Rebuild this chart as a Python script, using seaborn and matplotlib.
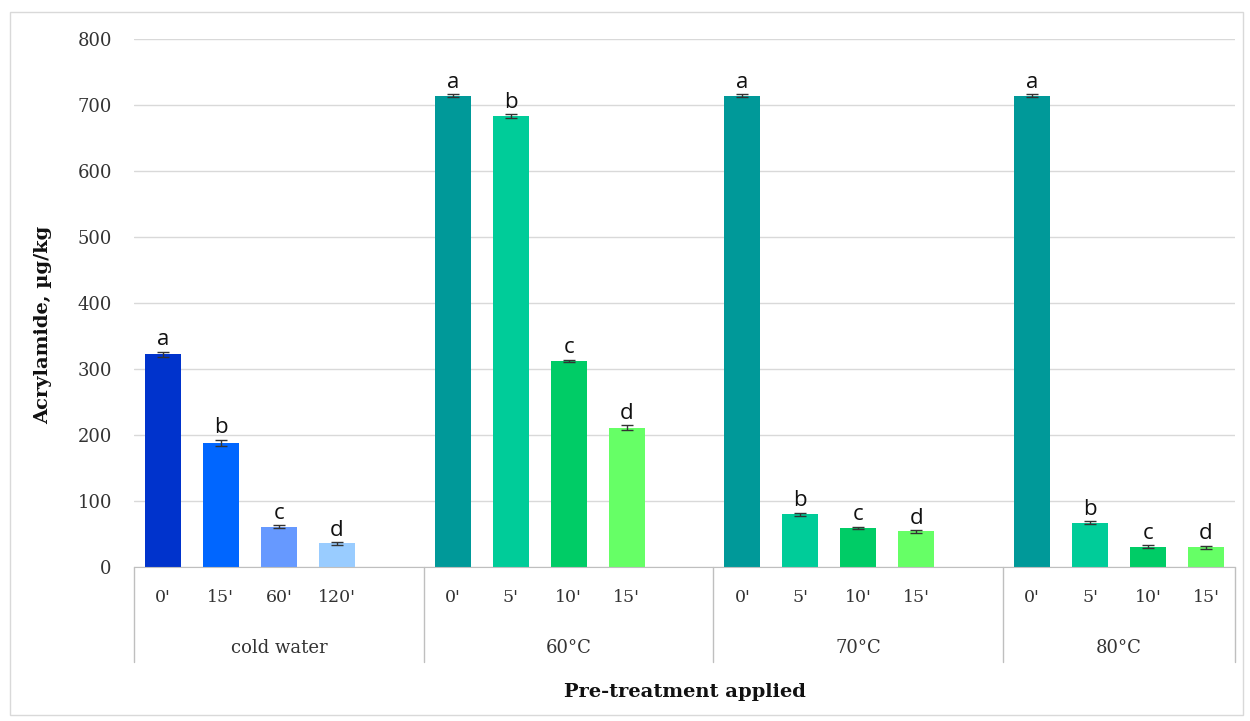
import numpy as np
import pandas as pd
import matplotlib.pyplot as plt
import matplotlib.transforms as mtransforms
from matplotlib.patches import Rectangle
import seaborn as sns

groups = ["cold water", "60°C", "70°C", "80°C"]
times = [["0'", "15'", "60'", "120'"],
         ["0'", "5'", "10'", "15'"],
         ["0'", "5'", "10'", "15'"],
         ["0'", "5'", "10'", "15'"]]
values = [[322, 188, 61, 36],
          [714, 683, 312, 211],
          [714, 80, 59, 54],
          [714, 67, 31, 30]]
errors = [[4, 5, 2, 2],
          [2, 3, 2, 4],
          [2, 2, 2, 2],
          [2, 2, 2, 2]]
letters = ["a", "b", "c", "d"]
colors = [["#0033CC", "#0066FF", "#6699FF", "#99CCFF"],
          ["#009999", "#00CC99", "#00CC66", "#66FF66"],
          ["#009999", "#00CC99", "#00CC66", "#66FF66"],
          ["#009999", "#00CC99", "#00CC66", "#66FF66"]]

# slot order: 4 bars per group, one empty slot between groups
order, rows = [], []
for gi, g in enumerate(groups):
    for ti, t in enumerate(times[gi]):
        slot = f"{g}|{t}"
        order.append(slot)
        rows.append({"slot": slot, "value": values[gi][ti], "err": errors[gi][ti],
                     "color": colors[gi][ti], "letter": letters[ti], "time": t})
    if gi < len(groups) - 1:
        order.append(f"gap{gi}")
df = pd.DataFrame(rows)
df["pos"] = [order.index(s) for s in df["slot"]]

serif = "DejaVu Serif"
txt = "#333333"

sns.set_style("white")
fig = plt.figure(figsize=(12.5, 7.21), dpi=100)
ax = fig.add_axes([0.1072, 0.2136, 0.8808, 0.7324])

sns.barplot(data=df, x="slot", y="value", order=order, hue="slot",
            palette=dict(zip(df["slot"], df["color"])), width=0.62,
            legend=False, ax=ax, saturation=1, linewidth=0)
ax.errorbar(df["pos"], df["value"], yerr=df["err"], fmt="none",
            ecolor="#333333", elinewidth=1, capsize=4, capthick=1, zorder=5)

for _, r in df.iterrows():
    ax.annotate(r["letter"], (r["pos"], r["value"] + r["err"]),
                xytext=(0, 1), textcoords="offset points", ha="center", va="bottom",
                fontsize=16, family="Open Sans", color="#111111")

ax.set_ylim(0, 800)
ax.set_xlim(-0.5, len(order) - 0.5)
ax.set_yticks(range(0, 801, 100))
ax.yaxis.grid(True, color="#d9d9d9", linewidth=1)
ax.set_axisbelow(True)
for s in ["top", "right", "left"]:
    ax.spines[s].set_visible(False)
ax.spines["bottom"].set_color("#bfbfbf")

ax.set_xticks(df["pos"])
ax.set_xticklabels(df["time"], family=serif, fontsize=12.5, color=txt)
ax.tick_params(axis="x", length=0, pad=16)
ax.tick_params(axis="y", length=0, pad=16, labelsize=13, labelcolor=txt)
for lab in ax.get_yticklabels():
    lab.set_family(serif)

trans = mtransforms.blended_transform_factory(ax.transData, ax.transAxes)
bounds = [-0.5, 4.5, 9.5, 14.5, len(order) - 0.5]
for b in bounds:
    ax.plot([b, b], [0, -0.18], transform=trans, color="#bfbfbf", lw=1, clip_on=False)
for gi, g in enumerate(groups):
    ax.text((bounds[gi] + bounds[gi + 1]) / 2, -0.153, g, transform=trans,
            ha="center", va="center", fontsize=13, family=serif, color=txt)

ax.set_xlabel("")
ax.set_ylabel("")
fig.text(0.0344, 0.55, "Acrylamide, µg/kg", rotation=90, ha="center", va="center",
         fontsize=14, fontweight="bold", family=serif, color="#111111")
fig.text(0.548, 0.040, "Pre-treatment applied", ha="center", va="center",
         fontsize=14, fontweight="bold", family=serif, color="#111111")

fig.patches.append(Rectangle((0.008, 0.008), 0.986, 0.975, transform=fig.transFigure,
                             fill=False, edgecolor="#d9d9d9", lw=1))

fig.savefig("out.png", dpi=100)
